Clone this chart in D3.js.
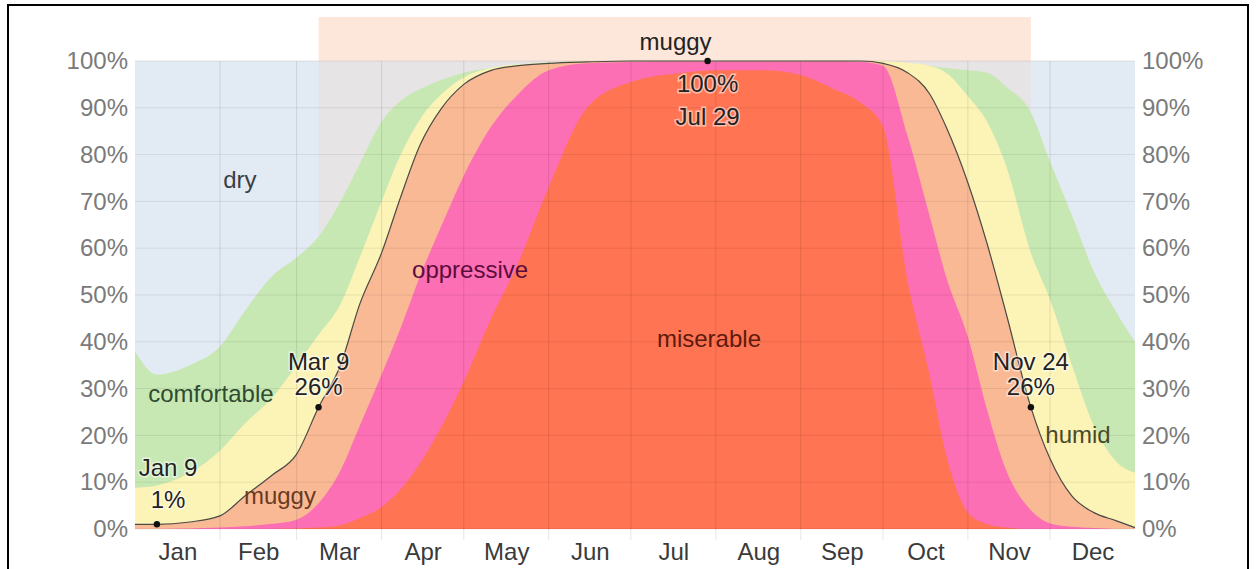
<!DOCTYPE html>
<html>
<head>
<meta charset="utf-8">
<script src="https://cdn.jsdelivr.net/npm/d3@7"></script>
<style>
  body { margin: 0; background: #fff; }
  svg text { font-family: "Liberation Sans", Arial, sans-serif; font-size: 24px; }
</style>
</head>
<body>
<div id="chart"></div>
<script>
// day of year (0 = Jan 1) for each sample
const days = [0, 8, 20, 31, 40, 50, 59, 67, 75, 82, 90, 97, 104, 112, 120, 130, 140, 151, 165, 181,
  200, 212, 230, 243, 255, 265, 273, 282, 290, 296, 304, 311, 318, 327, 334, 342, 350, 358, 365];

// cumulative % of time at or above each comfort level
const miserable = [0, 0, 0, 0, 0, 0, 0.1, 0.3, 0.8, 2.3, 4.7, 8.5, 14, 22, 31.5, 45, 57, 73, 90, 95.5,
  97.5, 98, 98, 97, 94, 91, 86, 53, 33, 16, 3.5, 1, 0.3, 0, 0, 0, 0, 0, 0];
const oppressive = [0, 0, 0.1, 0.3, 0.6, 1.1, 2, 5.5, 12.5, 22, 33, 43, 54, 65, 75.5, 86, 93, 98, 99.5, 99.8,
  99.9, 99.9, 99.9, 99.9, 99.9, 99.8, 99, 84, 67, 54, 41, 25.5, 12.5, 4, 1.2, 0.5, 0.2, 0, 0];
const muggy = [1, 1, 1.5, 2.8, 7, 11.5, 16, 26, 35, 48, 59, 71, 82, 90, 95, 98, 99, 99.5, 99.8, 100,
  100, 100, 100, 100, 100, 100, 99.5, 97.5, 93, 86, 74, 61, 46, 26, 15, 7, 3.5, 1.8, 0.3];
const humid = [8.8, 9.3, 12, 16.7, 22.5, 28, 35, 41.5, 48, 58, 70, 80, 87.5, 93, 96.5, 98.5, 99.3, 99.7, 100, 100,
  100, 100, 100, 100, 100, 100, 100, 99.6, 99, 97.5, 92.5, 87, 77.5, 59, 49, 35, 22, 14.5, 12];
const comfortable = [38, 33, 35, 39, 46.5, 54, 58, 62.5, 70, 78, 87, 91.5, 94, 96, 97.5, 98.5, 99.3, 99.7, 100, 100,
  100, 100, 100, 100, 100, 100, 99.8, 99.5, 99, 98.5, 98, 97.5, 94.5, 89, 78.5, 67, 55, 46.5, 40];

const monthNames = ["Jan", "Feb", "Mar", "Apr", "May", "Jun", "Jul", "Aug", "Sep", "Oct", "Nov", "Dec"];
const monthStarts = [0, 31, 59, 90, 120, 151, 181, 212, 243, 273, 304, 334, 365];
const yTicks = [0, 10, 20, 30, 40, 50, 60, 70, 80, 90, 100];

// highlighted muggy period
const bandStart = 67, bandEnd = 327;

// marked points on the muggy line
const markDates = ["Jan 9", "Mar 9", "Jul 29", "Nov 24"];
const markDays = [8, 67, 209, 327];
const markValues = [1, 26, 100, 26];

// region labels (day, %)
const regionNames = ["dry", "comfortable", "humid", "muggy", "oppressive", "miserable"];
const regionDays = [38.3, 27.7, 344.2, 52.9, 122.3, 209.5];
const regionPct = [72.9, 27.1, 18.4, 5.3, 53.6, 38.9];

const W = 1259, H = 569;
const x = d3.scaleLinear().domain([0, 365]).range([135, 1135]);
const y = d3.scaleLinear().domain([0, 100]).range([529, 61]);

const svg = d3.select("#chart").append("svg").attr("width", W).attr("height", H);

// muggy period band above the plot
svg.append("rect")
  .attr("x", x(bandStart)).attr("y", 17)
  .attr("width", x(bandEnd) - x(bandStart)).attr("height", y(100) - 17)
  .attr("fill", "#fde7db");

// dry background
svg.append("rect")
  .attr("x", x(0)).attr("y", y(100))
  .attr("width", x(365) - x(0)).attr("height", y(0) - y(100))
  .attr("fill", "#e2eaf3");

// band tint over the dry background only
svg.append("rect")
  .attr("x", x(bandStart)).attr("y", y(100))
  .attr("width", x(bandEnd) - x(bandStart)).attr("height", y(0) - y(100))
  .attr("fill", "#f0dcd2")
  .attr("opacity", 0.4);

const layers = [
  { name: "comfortable", values: comfortable, color: "#c7e8b3" },
  { name: "humid", values: humid, color: "#fcf3b6" },
  { name: "muggy", values: muggy, color: "#f9b995" },
  { name: "oppressive", values: oppressive, color: "#fc6fb4" },
  { name: "miserable", values: miserable, color: "#ff7452" }
];

const area = d3.area()
  .x((d, i) => x(days[i]))
  .y0(y(0))
  .y1(d => y(d))
  .curve(d3.curveMonotoneX);

svg.selectAll(".layer")
  .data(layers)
  .enter()
  .append("path")
  .attr("class", "layer")
  .attr("d", d => area(d.values))
  .attr("fill", d => d.color);

// grid
svg.append("g")
  .selectAll("line")
  .data(yTicks)
  .enter()
  .append("line")
  .attr("x1", x(0)).attr("x2", x(365))
  .attr("y1", d => y(d)).attr("y2", d => y(d))
  .attr("stroke", "rgba(0,0,0,0.08)");

svg.append("g")
  .selectAll("line")
  .data(monthStarts.slice(1, -1))
  .enter()
  .append("line")
  .attr("x1", d => x(d)).attr("x2", d => x(d))
  .attr("y1", y(100)).attr("y2", 540)
  .attr("stroke", "rgba(0,0,0,0.1)");

// muggy line
const line = d3.line()
  .x((d, i) => x(days[i]))
  .y(d => y(d))
  .curve(d3.curveMonotoneX);

svg.append("path")
  .attr("d", line(muggy))
  .attr("fill", "none")
  .attr("stroke", "#4b4b45")
  .attr("stroke-width", 1.2);

// axes
const yLeft = svg.append("g")
  .attr("transform", "translate(" + x(0) + ",0)")
  .call(d3.axisLeft(y).tickValues(yTicks).tickFormat(d => d + "%").tickSize(0).tickPadding(7));
const yRight = svg.append("g")
  .attr("transform", "translate(" + x(365) + ",0)")
  .call(d3.axisRight(y).tickValues(yTicks).tickFormat(d => d + "%").tickSize(0).tickPadding(7));
const monthMid = monthNames.map((m, i) => (monthStarts[i] + monthStarts[i + 1]) / 2);
const xAxis = svg.append("g")
  .attr("transform", "translate(0," + y(0) + ")")
  .call(d3.axisBottom(x).tickValues(monthMid).tickFormat((d, i) => monthNames[i]).tickSize(0).tickPadding(14));

[yLeft, yRight, xAxis].forEach(g => {
  g.select(".domain").remove();
  g.selectAll("text").attr("font-size", 24).attr("font-family", '"Liberation Sans", Arial, sans-serif');
});
yLeft.selectAll("text").attr("fill", "#7a7a7a");
yRight.selectAll("text").attr("fill", "#7a7a7a");
xAxis.selectAll("text").attr("fill", "#3a3a3a");

// region labels
const regionColors = ["#3a3f47", "#2f4a30", "#4a4a2a", "#6a3a22", "#5c0c3c", "#5e1a0c"];
svg.append("g")
  .selectAll("text")
  .data(regionNames)
  .enter()
  .append("text")
  .attr("x", (d, i) => x(regionDays[i]))
  .attr("y", (d, i) => y(regionPct[i]))
  .attr("text-anchor", "middle")
  .attr("fill", (d, i) => regionColors[i])
  .text(d => d);

// marked points
const marks = markDates.map((d, i) => ({ date: d, day: markDays[i], value: markValues[i] }));

svg.append("g")
  .selectAll("circle")
  .data(marks)
  .enter()
  .append("circle")
  .attr("cx", d => x(d.day))
  .attr("cy", d => y(d.value))
  .attr("r", 3.2)
  .attr("fill", "#111");

const halo = sel => sel
  .attr("text-anchor", "middle")
  .attr("fill", "#222")
  .attr("stroke", "rgba(255,255,255,0.55)")
  .attr("stroke-width", 3)
  .attr("paint-order", "stroke");

marks.forEach(m => {
  const cx = Math.max(x(m.day), x(0) + 33);
  const cy = y(m.value);
  if (m.value >= 100) {
    svg.append("text").call(halo).attr("x", cx).attr("y", cy + 31).text(m.value + "%");
    svg.append("text").call(halo).attr("x", cx).attr("y", cy + 64).text(m.date);
    svg.append("text").attr("x", cx + 4).attr("y", cy - 11)
      .attr("text-anchor", "end").attr("fill", "#222").text("muggy");
  } else {
    const lowGap = m.day < 31 ? 16 : 12;
    svg.append("text").call(halo).attr("x", cx).attr("y", cy - lowGap).text(m.value + "%");
    svg.append("text").call(halo).attr("x", cx).attr("y", cy - lowGap - (m.day < 31 ? 32 : 25)).text(m.date);
  }
});

// frame
svg.append("rect")
  .attr("x", 8).attr("y", 5)
  .attr("width", 1240).attr("height", 620)
  .attr("fill", "none")
  .attr("stroke", "#000")
  .attr("stroke-width", 2);
</script>
</body>
</html>
